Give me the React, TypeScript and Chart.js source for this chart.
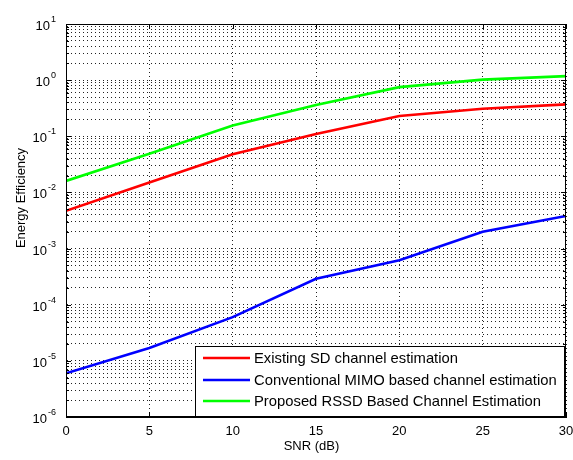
import React, { useEffect, useRef } from "react";
import { Chart, registerables } from "chart.js";

Chart.register(...registerables);

// ---- data ----
const snrDb = [0, 5, 10, 15, 20, 25, 30];
const existingSD = [0.0047, 0.015, 0.048, 0.11, 0.23, 0.31, 0.37];
const conventionalMIMO = [6.0e-6, 1.7e-5, 6.0e-5, 2.9e-4, 6.2e-4, 2.0e-3, 3.8e-3];
const proposedRSSD = [0.016, 0.049, 0.155, 0.36, 0.75, 1.02, 1.18];

const seriesLabels = [
  "Existing SD channel estimation",
  "Conventional MIMO based channel estimation",
  "Proposed RSSD Based Channel Estimation",
];
const seriesColors = ["#ff0000", "#0000ff", "#00ff00"];

const xTicks = [0, 5, 10, 15, 20, 25, 30];
const yDecadeExponents = [-6, -5, -4, -3, -2, -1, 0, 1];
const xTitle = "SNR (dB)";
const yTitle = "Energy Efficiency";

const FONT = "Arial, 'Liberation Sans', Helvetica, sans-serif";

function isDecade(v: number) {
  const e = Math.log10(v);
  return Math.abs(e - Math.round(e)) < 1e-9;
}

const matlabPlugin = {
  id: "matlabDecor",
  afterDraw(chart: any) {
    const ctx = chart.ctx as CanvasRenderingContext2D;
    const { left, right, top, bottom } = chart.chartArea;
    const xs = chart.scales.x;
    const ys = chart.scales.y;
    ctx.save();
    ctx.strokeStyle = "#000";
    ctx.lineWidth = 1;
    ctx.setLineDash([]);
    // box
    ctx.strokeRect(Math.round(left) + 0.5, Math.round(top) + 0.5, Math.round(right - left) - 1, Math.round(bottom - top) - 1);
    // inner ticks
    ctx.beginPath();
    xTicks.forEach((v) => {
      const px = Math.round(xs.getPixelForValue(v)) + 0.5;
      ctx.moveTo(px, bottom);
      ctx.lineTo(px, bottom - 5);
      ctx.moveTo(px, top);
      ctx.lineTo(px, top + 5);
    });
    ys.ticks.forEach((t: any) => {
      const py = Math.round(ys.getPixelForValue(t.value)) + 0.5;
      const len = isDecade(t.value) ? 5 : 3;
      ctx.moveTo(left, py);
      ctx.lineTo(left + len, py);
      ctx.moveTo(right, py);
      ctx.lineTo(right - len, py);
    });
    ctx.stroke();

    // y tick labels 10^n
    ctx.fillStyle = "#000";
    yDecadeExponents.forEach((e) => {
      const py = ys.getPixelForValue(Math.pow(10, e));
      const expTxt = String(e);
      ctx.font = `9px ${FONT}`;
      const ew = ctx.measureText(expTxt).width;
      const baseRight = 51 - (e < 0 ? ew - 5 : ew - 5) ;
      ctx.textAlign = "right";
      ctx.textBaseline = "alphabetic";
      ctx.font = `13px ${FONT}`;
      const bRight = 50 - Math.max(0, ew - 5);
      ctx.fillText("10", bRight, py + 6);
      ctx.font = `9px ${FONT}`;
      ctx.textAlign = "left";
      ctx.fillText(expTxt, bRight + 1, py - 2);
      void baseRight;
    });

    // axis titles
    ctx.font = `13px ${FONT}`;
    ctx.textAlign = "center";
    ctx.textBaseline = "alphabetic";
    ctx.fillText(chart.options.scales.x.title.text, 311.5, 450);
    ctx.save();
    ctx.translate(25, 198);
    ctx.rotate(-Math.PI / 2);
    ctx.fillText(chart.options.scales.y.title.text, 0, 0);
    ctx.restore();

    // legend
    const bx = 195, by = 346, bw = 369, bh = 70;
    ctx.fillStyle = "#fff";
    ctx.fillRect(bx, by, bw, bh);
    ctx.strokeStyle = "#000";
    ctx.strokeRect(bx + 0.5, by + 0.5, bw, bh);
    ctx.font = `14.8px ${FONT}`;
    ctx.textAlign = "left";
    ctx.textBaseline = "middle";
    const rows = [358, 380, 401];
    chart.data.datasets.forEach((ds: any, i: number) => {
      ctx.strokeStyle = ds.borderColor;
      ctx.lineWidth = 2.5;
      ctx.beginPath();
      ctx.moveTo(203, rows[i]);
      ctx.lineTo(250, rows[i]);
      ctx.stroke();
      ctx.fillStyle = "#000";
      ctx.fillText(ds.label, 254, rows[i] + 1);
    });
    ctx.restore();
  },
};

export default function App() {
  const ref = useRef<HTMLCanvasElement>(null);
  useEffect(() => {
    if (!ref.current) return;
    Chart.defaults.font.family = FONT;
    Chart.defaults.color = "#000";
    const series = [existingSD, conventionalMIMO, proposedRSSD];
    const chart = new Chart(ref.current, {
      type: "line",
      data: {
        labels: snrDb,
        datasets: series.map((s, i) => ({
          label: seriesLabels[i],
          data: snrDb.map((x, j) => ({ x, y: s[j] })),
          borderColor: seriesColors[i],
          backgroundColor: seriesColors[i],
          borderWidth: 2.6,
          pointRadius: 0,
          tension: 0,
          fill: false,
        })),
      },
      options: {
        animation: false,
        responsive: false,
        devicePixelRatio: 1,
        layout: { padding: { top: 24, right: 7, left: 0, bottom: 0 } },
        plugins: { legend: { display: false }, tooltip: { enabled: false } },
        scales: {
          x: {
            type: "linear",
            min: 0,
            max: 30,
            afterFit: (s: any) => { s.height = 43; s.paddingLeft = 0; s.paddingRight = 0; },
            afterBuildTicks: (s: any) => { s.ticks = xTicks.map((v) => ({ value: v })); },
            ticks: { font: { size: 13 }, padding: 7, color: "#000", maxRotation: 0 },
            grid: { color: "#222", drawTicks: false, lineWidth: 1, borderDash: [1, 3] } as any,
            border: { display: true, color: "#000", width: 1, dash: [1, 3] },
            title: { display: false, text: xTitle },
          },
          y: {
            type: "logarithmic",
            min: 1e-6,
            max: 10,
            afterFit: (s: any) => { s.width = 66; s.paddingTop = 0; s.paddingBottom = 0; },
            afterBuildTicks: (s: any) => {
              const t: any[] = [];
              yDecadeExponents.forEach((e) => {
                for (let m = 1; m <= 9; m++) {
                  if (e === 1 && m > 1) break;
                  t.push({ value: m * Math.pow(10, e) });
                }
              });
              s.ticks = t;
            },
            ticks: { display: false, autoSkip: false },
            grid: { color: "#222", drawTicks: false, lineWidth: 1, borderDash: [1, 3] } as any,
            border: { display: true, color: "#000", width: 1, dash: [1, 3] },
            title: { display: false, text: yTitle },
          },
        },
      },
      plugins: [matlabPlugin],
    } as any);
    return () => chart.destroy();
  }, []);
  return (
    <div style={{ position: "fixed", left: 0, top: 0, width: 573, height: 460, background: "#fff" }}>
      <canvas ref={ref} width={573} height={460} style={{ width: 573, height: 460, display: "block" }} />
    </div>
  );
}
